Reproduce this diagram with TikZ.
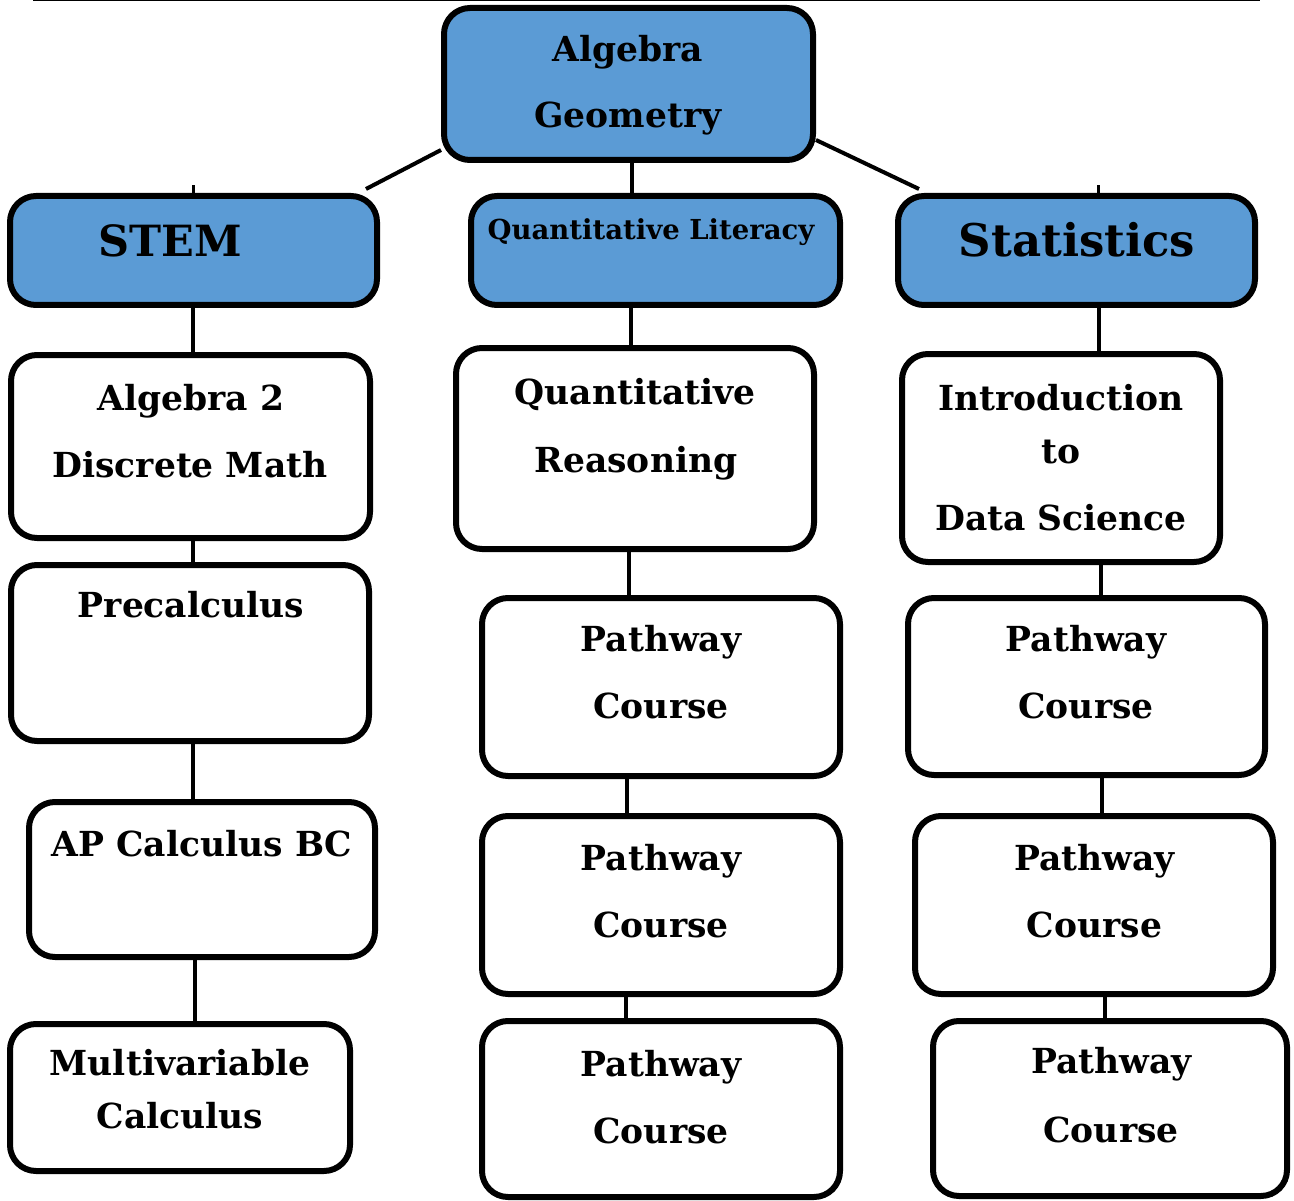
\documentclass[tikz,border=0pt]{standalone}
\usepackage{fontspec}
\setmainfont{DejaVu Serif}
\definecolor{hdrblue}{HTML}{5B9BD5}
\begin{document}
\begin{tikzpicture}[x=1pt,y=-1pt,
  box/.style={draw, line width=6pt, rounded corners=26pt, inner sep=0pt},
  hdr/.style={box, fill=hdrblue},
  wbox/.style={box, fill=white},
  txt/.style={anchor=base, inner sep=0pt, font=\fontsize{34.5}{36}\selectfont\bfseries},
  stemtxt/.style={txt, font=\fontsize{43}{45}\selectfont\bfseries},
  bigtxt/.style={txt, font=\fontsize{45}{45}\selectfont\bfseries},
  smalltxt/.style={txt, font=\fontsize{27.5}{27}\selectfont\bfseries},
  link/.style={line width=4pt}]
\useasboundingbox (0,0) rectangle (1294,1201);
\draw[line width=2.5pt] (33,0) -- (1260,0);
% header boxes
\node[hdr, minimum width=369pt, minimum height=152pt] (top) at (628.5,84) {};
\node[hdr, minimum width=367pt, minimum height=109pt] (stem) at (193.5,250.5) {};
\node[hdr, minimum width=369pt, minimum height=109pt] (ql) at (655.5,250.5) {};
\node[hdr, minimum width=357pt, minimum height=109pt] (stat) at (1076.5,250.5) {};
% column 1
\node[wbox, minimum width=359pt, minimum height=183pt] (alg2) at (190.5,446.5) {};
\node[wbox, minimum width=358pt, minimum height=176pt] (pre) at (190,653) {};
\node[wbox, minimum width=346pt, minimum height=155pt] (ap) at (202,879.5) {};
\node[wbox, minimum width=340pt, minimum height=147pt] (mv) at (180,1097.5) {};
% column 2
\node[wbox, minimum width=358pt, minimum height=201pt] (qr) at (635,448.5) {};
\node[wbox, minimum width=358pt, minimum height=178pt] (pa) at (661,687) {};
\node[wbox, minimum width=358pt, minimum height=178pt] (pb) at (661,905) {};
\node[wbox, minimum width=358pt, minimum height=176pt] (pc) at (661,1109) {};
% column 3
\node[wbox, minimum width=318pt, minimum height=208pt] (intro) at (1061,458) {};
\node[wbox, minimum width=357pt, minimum height=177pt] (sa) at (1086.5,686.5) {};
\node[wbox, minimum width=358pt, minimum height=178pt] (sb) at (1094,905) {};
\node[wbox, minimum width=354pt, minimum height=175pt] (sc) at (1110,1108.5) {};
% connectors
\begin{scope}[link]
\draw ([yshift=13pt]top.south west) -- ([xshift=-14pt,yshift=4pt]stem.north east);
\draw ([yshift=23pt]top.south east) -- ([xshift=24pt,yshift=4pt]stat.north west);
\draw ([xshift=3.5pt]top.south) -- ([xshift=3.5pt]top.south |- ql.north);
\draw[line width=3pt] ([xshift=-0.5pt]stem.north) -- ++(0,-8);
\draw[line width=3pt] ([xshift=21.5pt]stat.north) -- ++(0,-8);
\draw ([xshift=-0.5pt]stem.south) -- ([xshift=-0.5pt]stem.south |- alg2.north);
\draw ([xshift=2.5pt]alg2.south) -- ([xshift=2.5pt]alg2.south |- pre.north);
\draw ([xshift=3pt]pre.south) -- ([xshift=3pt]pre.south |- ap.north);
\draw ([xshift=-7pt]ap.south) -- ([xshift=-7pt]ap.south |- mv.north);
\draw ([xshift=-24.5pt]ql.south) -- ([xshift=-24.5pt]ql.south |- qr.north);
\draw ([xshift=-6pt]qr.south) -- ([xshift=-6pt]qr.south |- pa.north);
\draw ([xshift=-34pt]pa.south) -- ([xshift=-34pt]pa.south |- pb.north);
\draw ([xshift=-35pt]pb.south) -- ([xshift=-35pt]pb.south |- pc.north);
\draw ([xshift=22.5pt]stat.south) -- ([xshift=22.5pt]stat.south |- intro.north);
\draw ([xshift=40pt]intro.south) -- ([xshift=40pt]intro.south |- sa.north);
\draw ([xshift=15.5pt]sa.south) -- ([xshift=15.5pt]sa.south |- sb.north);
\draw ([xshift=11pt]sb.south) -- ([xshift=11pt]sb.south |- sc.north);
\end{scope}
% texts
\node[txt] (t1) at (628,62) {Algebra};
\node[txt] (t2) at (628,128) {Geometry};
\node[stemtxt] (t3) at (170,257) {STEM};
\node[smalltxt] (t4) at (651,240) {Quantitative Literacy};
\node[bigtxt] (t5) at (1077,257) {Statistics};
\node[txt] (t6) at (191,410) {Algebra 2};
\node[txt] (t7) at (190,477) {Discrete Math};
\node[txt] (t8) at (191,617) {Precalculus};
\node[txt] (t9) at (202,856) {AP Calculus BC};
\node[txt] (t10) at (180,1075) {Multivariable};
\node[txt] (t11) at (180,1128) {Calculus};
\node[txt] (t12) at (635,404) {Quantitative};
\node[txt] (t13) at (636,472) {Reasoning};
\node[txt] (t14) at (661,651) {Pathway};
\node[txt] (t15) at (661,718) {Course};
\node[txt] (t16) at (661,870) {Pathway};
\node[txt] (t17) at (661,937) {Course};
\node[txt] (t18) at (661,1076) {Pathway};
\node[txt] (t19) at (661,1143) {Course};
\node[txt] (t20) at (1061,410) {Introduction};
\node[txt] (t21) at (1061,463) {to};
\node[txt] (t22) at (1061,530) {Data Science};
\node[txt] (t23) at (1086,651) {Pathway};
\node[txt] (t24) at (1086,718) {Course};
\node[txt] (t25) at (1094.5,870) {Pathway};
\node[txt] (t26) at (1094.5,937) {Course};
\node[txt] (t27) at (1111.5,1073) {Pathway};
\node[txt] (t28) at (1111,1142) {Course};
\end{tikzpicture}
\end{document}
